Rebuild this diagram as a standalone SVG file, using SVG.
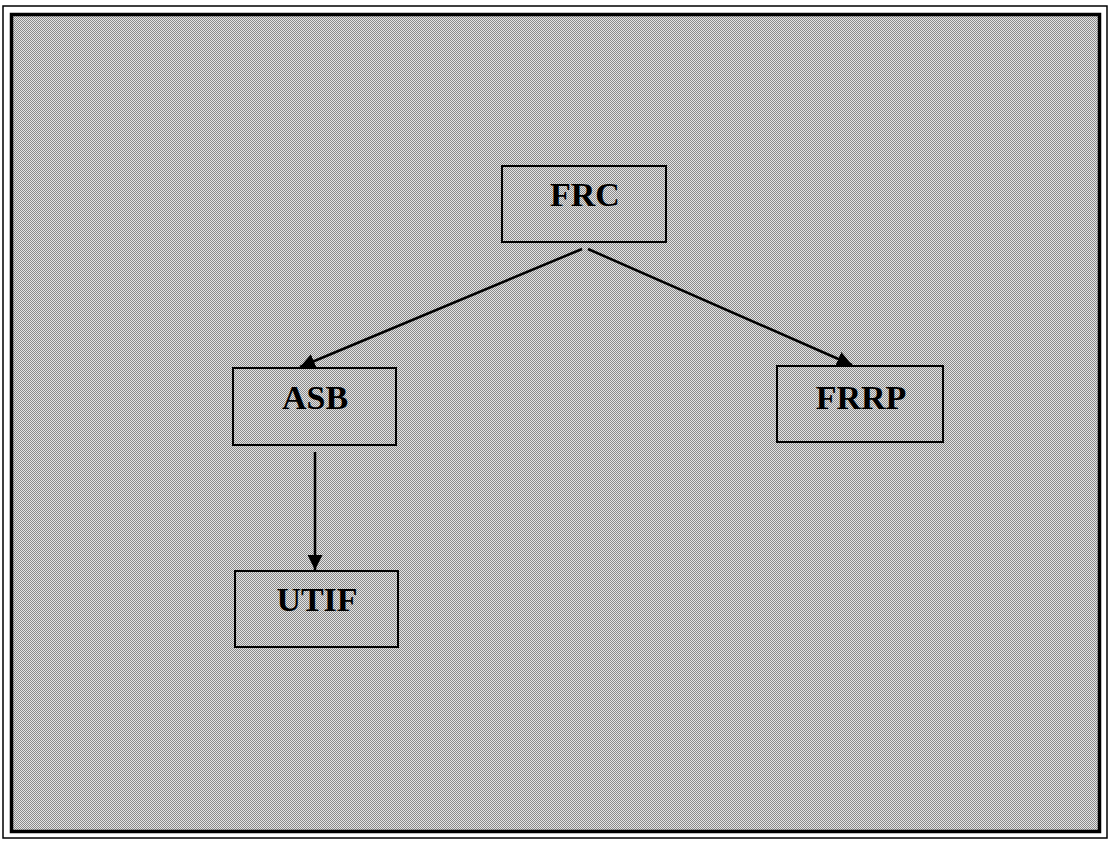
<svg xmlns="http://www.w3.org/2000/svg" width="1110" height="841" viewBox="0 0 1110 841">
<defs>
<pattern id="dither" width="2" height="2" patternUnits="userSpaceOnUse">
<rect width="2" height="2" fill="#e4e4e4"/>
<rect x="0" y="0" width="1" height="1" fill="#8a8a8a"/>
<rect x="1" y="1" width="1" height="1" fill="#8a8a8a"/>
</pattern>
<marker id="arr" viewBox="0 0 10 10" refX="10" refY="5" markerWidth="6" markerHeight="6" orient="auto" markerUnits="strokeWidth">
<path d="M0,0 L10,5 L0,10 z" fill="#000"/>
</marker>
<style>
.box{fill:url(#dither);stroke:#000;stroke-width:2}
.lbl{font-family:"Liberation Serif",serif;font-weight:bold;font-size:34px;fill:#000;text-anchor:middle}
.conn{stroke:#000;stroke-width:2.5;fill:none;marker-end:url(#arr)}
</style>
</defs>
<rect x="0" y="0" width="1110" height="841" fill="#fff"/>
<rect x="3" y="6" width="1104" height="832" fill="none" stroke="#000" stroke-width="1.5"/>
<rect x="11.5" y="14.5" width="1088" height="817" fill="url(#dither)" stroke="#000" stroke-width="3.5"/>
<g id="connectors">
<line class="conn" x1="582" y1="249" x2="300" y2="367"/>
<line class="conn" x1="588" y1="249" x2="852" y2="365"/>
<line class="conn" x1="315" y1="452" x2="315" y2="570"/>
</g>
<g id="node-frc">
<rect class="box" x="502" y="166" width="164" height="76"/>
<text class="lbl" x="585" y="206">FRC</text>
</g>
<g id="node-asb">
<rect class="box" x="233" y="368" width="163" height="77"/>
<text class="lbl" x="315" y="409">ASB</text>
</g>
<g id="node-frrp">
<rect class="box" x="777" y="366" width="166" height="76"/>
<text class="lbl" x="861" y="409">FRRP</text>
</g>
<g id="node-utif">
<rect class="box" x="235" y="571" width="163" height="76"/>
<text class="lbl" x="317" y="611">UTIF</text>
</g>
</svg>
